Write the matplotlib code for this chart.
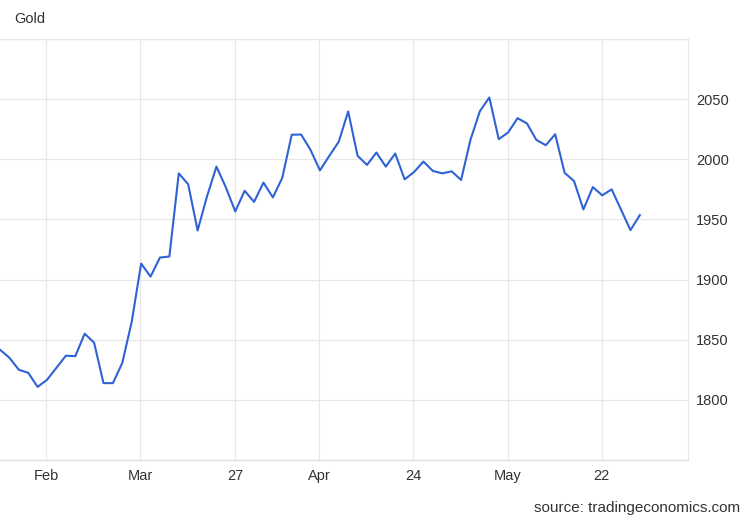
import matplotlib
matplotlib.use("Agg")
import matplotlib.pyplot as plt

plt.rcParams['font.family'] = ['Liberation Sans', 'DejaVu Sans']

# gold price, one value per trading day
prices = [1841.7, 1835.0, 1825.0, 1822.5, 1810.8, 1816.7, 1826.7, 1836.7, 1836.3, 1855.0,
          1847.5, 1813.9, 1813.9, 1830.8, 1865.0, 1913.3, 1902.5, 1918.3, 1919.2, 1988.3,
          1979.2, 1940.8, 1969.2, 1993.9, 1976.7, 1956.7, 1973.8, 1964.6, 1980.6, 1968.3,
          1984.6, 2020.4, 2020.6, 2007.8, 1990.8, 2002.9, 2014.6, 2039.8, 2002.9, 1995.3,
          2005.6, 1993.9, 2004.8, 1983.3, 1989.4, 1998.1, 1990.3, 1988.3, 1990.0, 1982.8,
          2016.3, 2040.0, 2051.4, 2016.7, 2022.3, 2034.2, 2029.8, 2016.1, 2011.7, 2020.8,
          1988.8, 1981.9, 1958.3, 1976.9, 1970.0, 1975.0, 1958.1, 1941.1, 1953.6]

# x tick labels and where they sit (in trading-day index units)
tick_labels = ['Feb', 'Mar', '27', 'Apr', '24', 'May', '22']
tick_pos = [4.92, 14.93, 24.97, 33.93, 43.92, 53.95, 63.94]
y_ticks = [1800, 1850, 1900, 1950, 2000, 2050]

text_col = '#333333'
grid_col = '#e8e8e8'

fig = plt.figure(figsize=(7.5, 5.2), dpi=100)
ax = fig.add_axes([0.0, 1 - 460 / 520, 688 / 750, (460 - 39) / 520])

ax.plot(range(len(prices)), prices, color='#2f62d4', linewidth=1.5, zorder=3)

ax.set_xlim(0, 688 / 9.41)
ax.set_ylim(1750, 2100)

ax.set_xticks(tick_pos)
ax.set_xticklabels(tick_labels)
ax.set_yticks(y_ticks + [2100])
ax.set_yticklabels([str(v) for v in y_ticks] + [''])
ax.yaxis.tick_right()
ax.tick_params(axis='both', length=0, labelsize=10.5, colors=text_col)
ax.tick_params(axis='x', pad=6.5)
ax.tick_params(axis='y', pad=6)

ax.grid(True, color=grid_col, linewidth=0.9, zorder=0)
ax.spines['left'].set_visible(False)
ax.spines['top'].set_color(grid_col)
ax.spines['right'].set_color(grid_col)
ax.spines['bottom'].set_color('#dddddd')
for sp in ax.spines.values():
    sp.set_linewidth(0.9)

fig.text(14 / 750, 1 - 19 / 520, 'Gold', fontsize=10.5, color=text_col, va='center', ha='left')
fig.text(740 / 750, 1 - 508 / 520, 'source: tradingeconomics.com', fontsize=11,
         color=text_col, va='center', ha='right')

fig.savefig('out.png', dpi=100, facecolor='white')
